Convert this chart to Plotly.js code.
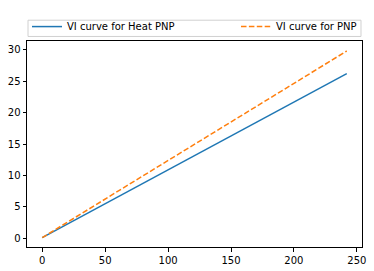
<!DOCTYPE html>
<html><head><meta charset="utf-8">
<script src="https://cdn.plot.ly/plotly-3.0.1.min.js"></script>
<style>body{margin:0;padding:0;background:#fff}</style>
</head><body>
<div id="chart" style="width:374px;height:271px"></div>
<script>
const current = [0, 242];
const heatPNP = [0.1, 26.2];
const pnp = [0.1, 29.8];
const names = ["VI curve for Heat PNP", "VI curve for PNP"];
const xTicks = [0, 50, 100, 150, 200, 250];
const yTicks = [0, 5, 10, 15, 20, 25, 30];

const traces = [
  {x: current, y: heatPNP, name: names[0], mode: "lines", line: {color: "#1f77b4", width: 1.5}, legend: "legend"},
  {x: current, y: pnp, name: names[1], mode: "lines", line: {color: "#ff7f0e", width: 1.5, dash: "5.5px,2.4px"}, legend: "legend2"}
];
const axisCommon = {
  showline: true, mirror: true, linecolor: "#000", linewidth: 1,
  ticks: "outside", ticklen: 3.5, tickcolor: "#000", tickwidth: 1,
  showgrid: false, zeroline: false,
  tickfont: {family: "DejaVu Sans", size: 10, color: "#000"}
};
const legendCommon = {
  orientation: "h", bgcolor: "rgba(0,0,0,0)", borderwidth: 0,
  font: {family: "DejaVu Sans", size: 10, color: "#000"},
  yanchor: "middle", y: 1.07
};
const layout = {
  width: 374, height: 271,
  margin: {l: 27, r: 12, t: 29, b: 24},
  paper_bgcolor: "#fff", plot_bgcolor: "#fff",
  xaxis: Object.assign({}, axisCommon, {range: [-12.1, 254.1], tickvals: xTicks}),
  yaxis: Object.assign({}, axisCommon, {range: [-1.39, 31.39], tickvals: yTicks}),
  legend: Object.assign({}, legendCommon, {x: 0.0, xanchor: "left"}),
  legend2: Object.assign({}, legendCommon, {x: 1.0, xanchor: "right"}),
  shapes: [{type: "rect", xref: "paper", yref: "paper", x0: 0.003, x1: 0.997, y0: 1.022, y1: 1.101,
    line: {color: "#d0d0d0", width: 1}, fillcolor: "rgba(255,255,255,0.8)", layer: "below"}],
  showlegend: true
};
Plotly.newPlot("chart", traces, layout, {displayModeBar: false, staticPlot: true});
</script>
</body></html>
